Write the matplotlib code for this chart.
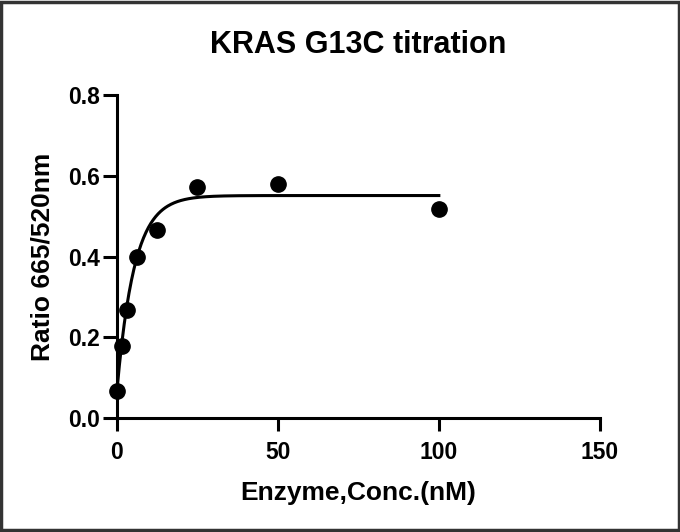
import numpy as np
import matplotlib
matplotlib.use("Agg")
import matplotlib.pyplot as plt
from matplotlib.patches import Rectangle

# enzyme titration data (nM vs ratio 665/520)
conc_nM = [0, 1.5625, 3.125, 6.25, 12.5, 25, 50, 100]
ratio = [0.068, 0.178, 0.267, 0.398, 0.466, 0.571, 0.579, 0.518]

# one-phase association fit parameters
fit_y0 = 0.068
fit_plateau = 0.551
fit_k = 0.185

plt.rcParams['font.family'] = ['Liberation Sans', 'DejaVu Sans']

fig = plt.figure(figsize=(6.8, 5.32), dpi=100)
ax = fig.add_axes([0.172, 0.2143, 0.71, 0.6071])

xs = np.linspace(0, max(conc_nM), 400)
ys = fit_y0 + (fit_plateau - fit_y0) * (1 - np.exp(-fit_k * xs))
ax.plot(xs, ys, color="black", lw=2.2, clip_on=False)
ax.plot(conc_nM, ratio, "o", color="black", ms=11, clip_on=False)

ax.set_xlim(0, 150)
ax.set_ylim(0, 0.8)
ax.set_xticks([0, 50, 100, 150])
ax.set_yticks([0.0, 0.2, 0.4, 0.6, 0.8])
ax.set_yticklabels(["0.0", "0.2", "0.4", "0.6", "0.8"])

for s in ["top", "right"]:
    ax.spines[s].set_visible(False)
for s in ["left", "bottom"]:
    ax.spines[s].set_linewidth(2.2)

ax.tick_params(axis="x", direction="out", length=9.5, width=2.2, pad=7)
ax.tick_params(axis="y", direction="out", length=10, width=2.2, pad=2)
for lab in ax.get_xticklabels() + ax.get_yticklabels():
    lab.set_fontsize(16.5)
    lab.set_fontweight("bold")

ax.set_title("KRAS G13C titration", fontsize=22, fontweight="bold", pad=30)
ax.set_xlabel("Enzyme,Conc.(nM)", fontsize=19, fontweight="bold", labelpad=12)
ax.set_ylabel("Ratio 665/520nm", fontsize=19, fontweight="bold", labelpad=10)

# thin frame around the whole picture
fig.patches.append(Rectangle((0.002, 0.003), 0.996, 0.994, transform=fig.transFigure,
                             fill=False, edgecolor="#333333", lw=2.5))

fig.savefig("out.png", dpi=100)
